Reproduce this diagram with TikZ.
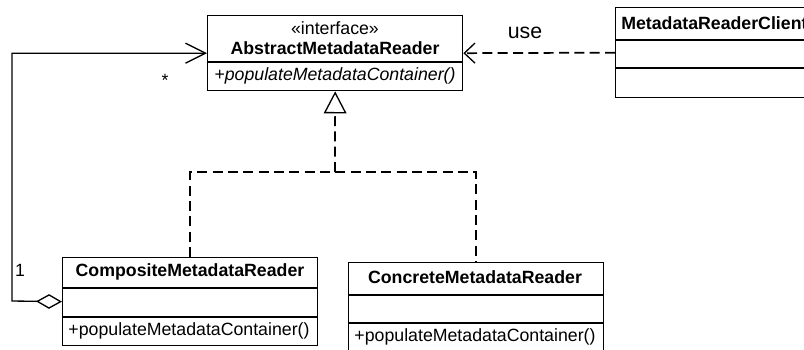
\documentclass[tikz,border=0pt]{standalone}
\usepackage{fontspec}
\setmainfont{Liberation Sans}
\usetikzlibrary{arrows.meta}
\tikzset{
  umlbox/.style={draw, line width=1pt, inner sep=0pt, anchor=north west},
  txt/.style={inner sep=0pt, font=\fontsize{13.3}{16}\selectfont},
  bold/.style={txt, font=\fontsize{13.3}{16}\selectfont\bfseries},
  ital/.style={txt, font=\fontsize{13.3}{16}\selectfont\itshape},
  conn/.style={line width=1pt},
  dashline/.style={line width=1.3pt, dash pattern=on 7.5pt off 4pt},
}
\begin{document}
\begin{tikzpicture}[x=0.75pt, y=-0.75pt]
\useasboundingbox (0,0) rectangle (804,350);
\clip (0,0) rectangle (804,350);
\fill[white] (0,0) rectangle (804,350);

% AbstractMetadataReader
\node[umlbox, minimum width=191.25pt, minimum height=56.25pt] (abs) at (207,15) {};
\draw[conn] (abs.west |- 0,62) -- (abs.east |- 0,62);
\node[txt] (absst) at (335,28) {«interface»};
\node[bold] (absname) at (335,48) {AbstractMetadataReader};
\node[ital] (absop) at (335,76) {+populateMetadataContainer()};

% MetadataReaderClient
\node[umlbox, minimum width=161.25pt, minimum height=67.5pt] (cli) at (615,7) {};
\draw[conn] (cli.west |- 0,40) -- (cli.east |- 0,40);
\draw[conn] (cli.west |- 0,68) -- (cli.east |- 0,68);
\node[bold, anchor=west] (cliname) at (621,23) {MetadataReaderClient};

% CompositeMetadataReader
\node[umlbox, minimum width=191.25pt, minimum height=66pt] (comp) at (62,257) {};
\draw[conn] (comp.west |- 0,288) -- (comp.east |- 0,288);
\draw[conn] (comp.west |- 0,317) -- (comp.east |- 0,317);
\node[bold] (compname) at (190,272) {CompositeMetadataReader};
\node[txt] (compop) at (189,331) {+populateMetadataContainer()};

% ConcreteMetadataReader
\node[umlbox, minimum width=191.25pt, minimum height=75pt] (conc) at (348,262) {};
\draw[conn] (conc.west |- 0,295) -- (conc.east |- 0,295);
\draw[conn] (conc.west |- 0,323) -- (conc.east |- 0,323);
\node[bold] (concname) at (475,277) {ConcreteMetadataReader};
\node[txt] (concop) at (475,337) {+populateMetadataContainer()};

% aggregation
\coordinate (aggc) at (12,301);
\draw[conn, {Diamond[open, length=19.5pt, width=11pt]}-{Straight Barb[length=15pt, width=15pt]}]
  (comp.west) -- (aggc) |- (abs.west);
\node[txt] (mstar) at (165,80) {*};
\node[txt] (mone) at (20,270) {1};

% use dependency
\draw[dashline, -{Straight Barb[length=8pt, width=15pt, line width=1pt]}] (cli.west) -- (abs.east);
\node[txt, font=\fontsize{16}{19}\selectfont] (use) at (525,33) {use};

% realization
\coordinate (junc) at (335,172);
\draw[dashline] (comp.north) |- (junc) -| (conc.north);
\draw[dashline, -{Triangle[open, length=16.5pt, width=17pt, line width=1pt]}] (junc) -- (abs.south);
\end{tikzpicture}
\end{document}
